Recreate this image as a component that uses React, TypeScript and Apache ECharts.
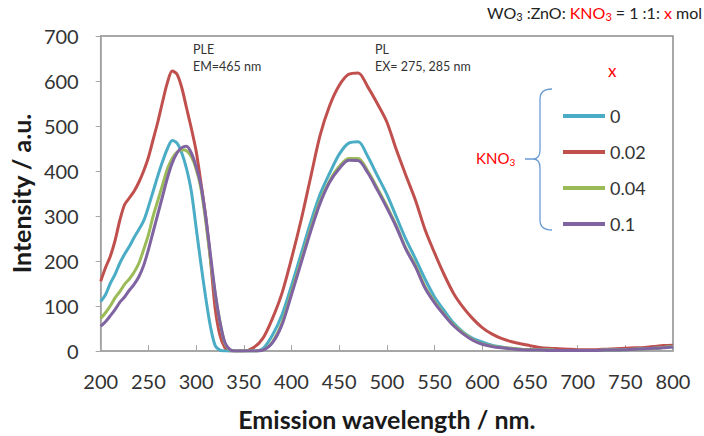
import React, { useEffect, useRef } from "react";
import * as echarts from "echarts";

const wavelengths = [
  200, 205, 210, 215, 220, 225, 230, 235, 240, 245, 250, 255, 260, 265, 270, 275, 280, 285, 290, 295,
  300, 305, 310, 315, 320, 325, 330, 335, 340,
  350, 360, 370, 380, 390, 400, 410, 420, 430, 440, 450, 460, 470, 480, 490, 500, 510, 520, 530, 540,
  550, 560, 570, 580, 590, 600, 610, 620, 630, 640, 650, 660, 670, 680, 690, 700, 710, 720, 730, 740,
  750, 760, 770, 780, 790, 800,
];

const x0 = [
  110, 125, 150, 170, 195, 215, 232, 252, 270, 289, 320, 355, 390, 422, 450, 468, 462, 440, 405, 355,
  275, 195, 120, 55, 12, 2, 0, 0, 0,
  0, 0, 5, 35, 80, 145, 215, 285, 348, 395, 437, 462, 465, 432, 390, 348, 298, 248, 205, 160,
  120, 90, 62, 42, 28, 20, 13, 9, 6, 4, 3, 2, 2, 1, 1, 1, 1, 1, 2, 2,
  3, 4, 5, 6, 8, 10,
];

const x002 = [
  155, 185, 210, 245, 290, 325, 340, 355, 375, 400, 430, 470, 510, 555, 597, 622, 615, 585, 540, 495,
  445, 375, 300, 205, 95, 35, 8, 0, 0,
  0, 7, 28, 72, 128, 205, 290, 385, 479, 545, 590, 615, 618, 587, 550, 509, 447, 390, 335, 270,
  218, 170, 128, 97, 72, 52, 38, 28, 21, 16, 12, 8, 6, 5, 4, 3, 3, 3, 4, 5,
  6, 7, 8, 10, 12, 13,
];

const x004 = [
  72, 85, 100, 118, 132, 148, 160, 175, 195, 225, 258, 300, 335, 370, 405, 428, 442, 447, 445, 432,
  405, 362, 290, 205, 128, 65, 18, 3, 0,
  0, 0, 2, 20, 62, 130, 200, 270, 333, 378, 410, 428, 428, 400, 362, 322, 278, 228, 190, 143,
  110, 82, 58, 40, 25, 16, 11, 8, 6, 4, 3, 2, 2, 1, 1, 1, 1, 1, 2, 2,
  3, 4, 5, 6, 8, 10,
];

const x01 = [
  55, 65, 78, 92, 108, 120, 135, 148, 165, 190, 225, 265, 305, 345, 385, 418, 440, 452, 455, 440,
  410, 369, 300, 215, 130, 65, 20, 4, 0,
  0, 0, 2, 18, 58, 125, 195, 265, 328, 375, 405, 424, 423, 396, 358, 318, 275, 226, 187, 140,
  107, 80, 56, 38, 24, 15, 10, 7, 5, 3, 2, 2, 1, 1, 1, 1, 1, 1, 2, 2,
  3, 4, 5, 6, 7, 9,
];

const seriesNames = ["0", "0.02", "0.04", "0.1"];
const seriesColors = ["#4bacc6", "#c0504d", "#9bbb59", "#8064a2"];
const seriesValues = [x0, x002, x004, x01];

const xTicks = { min: 200, max: 800, interval: 50 };
const yTicks = { min: 0, max: 700, interval: 100 };

const FONT = "Lato, 'Open Sans', sans-serif";

let braceRegistered = false;
function registerBrace() {
  if (braceRegistered) return;
  const d =
    "M552,89 Q540,89 540,99 L540,150 Q540,159 533,159 L525,159 M533,159 Q540,159 540,168 L540,220 Q540,230 552,230";
  echarts.graphic.registerShape("brace", echarts.graphic.extendPath(d, {}));
  braceRegistered = true;
}

export default function App() {
  const ref = useRef<HTMLDivElement>(null);

  useEffect(() => {
    if (!ref.current) return;
    registerBrace();
    const chart = echarts.init(ref.current, undefined, { renderer: "svg" });

    const series = seriesValues.map((vals, i) => ({
      name: seriesNames[i],
      type: "line",
      data: wavelengths.map((w, j) => [w, vals[j]]),
      showSymbol: false,
      smooth: 0.3,
      lineStyle: { color: seriesColors[i], width: 3 },
      itemStyle: { color: seriesColors[i] },
      z: i === 1 ? 1 : 2,
    }));

    chart.setOption({
      animation: false,
      backgroundColor: "#ffffff",
      grid: {
        left: 100,
        right: 31,
        top: 36,
        bottom: 81,
        show: true,
        borderColor: "#8c8c8c",
        borderWidth: 1.5,
      },
      xAxis: {
        type: "value",
        min: xTicks.min,
        max: xTicks.max,
        interval: xTicks.interval,
        name: "Emission wavelength / nm.",
        nameLocation: "middle",
        nameGap: 55,
        nameTextStyle: { fontFamily: FONT, fontSize: 25, fontWeight: "bold", color: "#1a1a1a" },
        axisLine: { lineStyle: { color: "#a6a6a6", width: 1.5 } },
        axisTick: { inside: true, length: 6, lineStyle: { color: "#a6a6a6" } },
        axisLabel: { fontFamily: FONT, fontSize: 20, color: "#333333", margin: 20 },
        splitLine: { show: false },
      },
      yAxis: {
        type: "value",
        min: yTicks.min,
        max: yTicks.max,
        interval: yTicks.interval,
        name: "Intensity / a.u.",
        nameLocation: "middle",
        nameGap: 66,
        nameTextStyle: { fontFamily: FONT, fontSize: 25, fontWeight: "bold", color: "#1a1a1a" },
        axisLine: { show: true, lineStyle: { color: "#a6a6a6", width: 1.5 } },
        axisTick: { show: true, inside: false, length: 5, lineStyle: { color: "#a6a6a6" } },
        axisLabel: { fontFamily: FONT, fontSize: 20, color: "#333333", margin: 22 },
        splitLine: { show: false },
      },
      legend: {
        orient: "vertical",
        left: 563,
        top: 106,
        padding: 0,
        itemGap: 16,
        itemWidth: 42,
        itemHeight: 4,
        icon: "rect",
        data: seriesNames,
        textStyle: { fontFamily: FONT, fontSize: 18, color: "#333333", lineHeight: 20 },
      },
      graphic: [
        {
          type: "text",
          left: 487,
          top: 4,
          style: {
            text: "WO{sub|3} :ZnO: {r|KNO}{rsub|3} = 1 :1: {r|x} mol",
            fontFamily: FONT,
            fontSize: 16,
            fill: "#222222",
            rich: {
              sub: { fontFamily: FONT, fontSize: 11, fill: "#222222", padding: [9, 0, 0, 0] },
              r: { fontFamily: FONT, fontSize: 16, fill: "#ff0000" },
              rsub: { fontFamily: FONT, fontSize: 11, fill: "#ff0000", padding: [9, 0, 0, 0] },
            },
          },
        },
        {
          type: "text",
          left: 193,
          top: 41,
          style: { text: "PLE\nEM=465 nm", fontFamily: FONT, fontSize: 12.5, lineHeight: 17, fill: "#333333" },
        },
        {
          type: "text",
          left: 375,
          top: 41,
          style: { text: "PL\nEX= 275, 285 nm", fontFamily: FONT, fontSize: 12.5, lineHeight: 17, fill: "#333333" },
        },
        {
          type: "text",
          left: 608,
          top: 62,
          style: { text: "x", fontFamily: FONT, fontSize: 17, fill: "#ff0000" },
        },
        {
          type: "text",
          left: 476,
          top: 150,
          style: {
            text: "KNO{s|3}",
            fontFamily: FONT,
            fontSize: 15,
            fill: "#ff0000",
            rich: { s: { fontFamily: FONT, fontSize: 10, fill: "#ff0000", padding: [9, 0, 0, 0] } },
          },
        },
        {
          type: "brace",
          x: 0,
          y: 0,
          style: { fill: "none", stroke: "#6b9bd1", lineWidth: 1.3 },
        },
      ],
      series,
    });

    return () => chart.dispose();
  }, []);

  return <div ref={ref} style={{ width: 704, height: 436, position: "absolute", left: 0, top: 0 }} />;
}
